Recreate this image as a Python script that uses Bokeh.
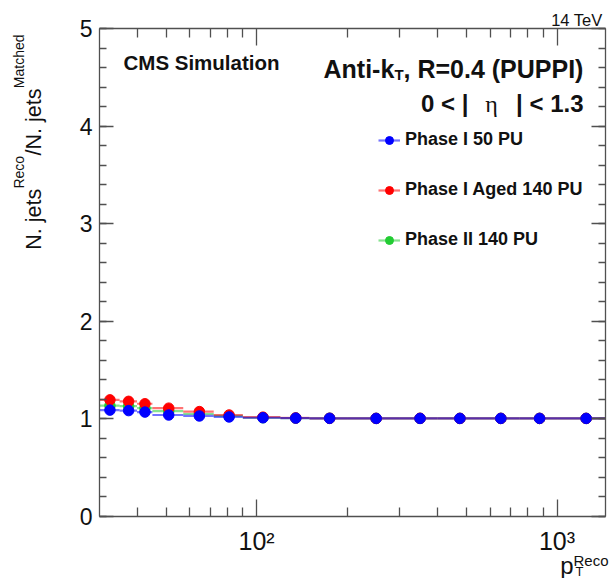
import math
from bokeh.plotting import figure
from bokeh.models import (Range1d, LinearAxis, LogAxis, FixedTicker, SingleIntervalTicker,
                          Label, Legend, LegendItem, ColumnDataSource, Title)
from bokeh.embed import file_html
from bokeh.resources import INLINE

# ---------------- data ----------------
pt_center = [32.5, 37.5, 42.5, 51, 64.5, 81, 105, 135, 175, 250, 350, 475, 650, 875, 1250]
pt_low = [30, 35, 40, 45, 57, 72, 90, 120, 150, 200, 300, 400, 550, 750, 1000]
pt_high = [35, 40, 45, 57, 72, 90, 120, 150, 200, 300, 400, 550, 750, 1000, 1500]

phase1_50pu = [1.09, 1.085, 1.07, 1.04, 1.03, 1.02, 1.012, 1.008, 1.006, 1.005, 1.005, 1.005, 1.005, 1.005, 1.005]
phase1_aged_140pu = [1.195, 1.18, 1.155, 1.11, 1.075, 1.04, 1.018, 1.01, 1.006, 1.005, 1.006, 1.005, 1.005, 1.005, 1.005]
phase2_140pu = [1.135, 1.13, 1.11, 1.08, 1.05, 1.03, 1.012, 1.008, 1.006, 1.005, 1.005, 1.005, 1.005, 1.005, 1.005]

series_names = ["Phase I 50 PU", "Phase I Aged 140 PU", "Phase II 140 PU"]
x_major = [100, 1000]
x_minor = [40, 50, 60, 70, 80, 90, 200, 300, 400, 500, 600, 700, 800, 900]
x_labels = {100: "10\u00b2", 1000: "10\u00b3"}

# ---------------- layout ----------------
W, H = 611, 578
FL, FR, FT, FB = 99, 605, 28, 516
FONT = "Liberation Sans"
SERIF = "Liberation Serif"
AXC = "#505050"
TXT = "#111111"

p = figure(width=W, height=H, x_axis_type="log",
           x_range=Range1d(30, 1450), y_range=Range1d(0, 5),
           output_backend="svg", toolbar_location=None,
           min_border_left=FL, min_border_right=W - FR,
           min_border_top=FT, min_border_bottom=H - FB)
p.xgrid.visible = False
p.ygrid.visible = False
p.outline_line_color = None
p.background_fill_color = "white"
p.border_fill_color = "white"


def style_axis(ax, major_len, minor_len, labels=True):
    ax.major_tick_in = major_len
    ax.major_tick_out = 0
    ax.minor_tick_in = minor_len
    ax.minor_tick_out = 0
    ax.axis_line_color = AXC
    ax.major_tick_line_color = AXC
    ax.minor_tick_line_color = AXC
    ax.axis_line_width = 1.3
    ax.major_tick_line_width = 1.3
    ax.minor_tick_line_width = 1.3
    if not labels:
        ax.major_label_text_font_size = "1px"
        ax.major_label_text_alpha = 0
        ax.major_label_standoff = 0


xticker = FixedTicker(ticks=x_major, minor_ticks=x_minor)
yticker = SingleIntervalTicker(interval=1, num_minor_ticks=5)

xb = p.xaxis[0]
xb.ticker = xticker
xb.major_label_overrides = x_labels
xb.major_label_text_font = FONT
xb.major_label_text_font_size = "25px"
xb.major_label_text_color = TXT
xb.major_label_standoff = 10
style_axis(xb, 17, 9)

yl = p.yaxis[0]
yl.ticker = yticker
yl.major_label_text_font = FONT
yl.major_label_text_font_size = "23px"
yl.major_label_text_color = TXT
yl.major_label_standoff = 7
style_axis(yl, 14, 7)

xt = LogAxis(ticker=xticker)
style_axis(xt, 17, 9, labels=False)
p.add_layout(xt, "above")

yr = LinearAxis(ticker=yticker)
style_axis(yr, 14, 7, labels=False)
p.add_layout(yr, "right")

# ---------------- data marks ----------------
colors = ["#0000ff", "#ff0000", "#22cc33"]
values = [phase1_50pu, phase1_aged_140pu, phase2_140pu]
renderers = {}
for idx in [2, 1, 0]:
    src = ColumnDataSource(dict(x=pt_center, lo=pt_low, hi=pt_high, y=values[idx]))
    seg = p.segment(x0="lo", x1="hi", y0="y", y1="y", source=src,
                    line_color=colors[idx], line_alpha=0.55, line_width=2.2)
    sc = p.scatter(x="x", y="y", source=src, size=10.5, marker="circle",
                   fill_color=colors[idx], line_color=colors[idx])
    renderers[idx] = (seg, sc)

items = [LegendItem(label=series_names[i], renderers=list(renderers[i])) for i in range(3)]
legend = Legend(items=items, location=(279, 266), orientation="vertical",
                background_fill_alpha=0, border_line_color=None,
                label_text_font=FONT, label_text_font_style="bold",
                label_text_font_size="18px", label_text_color=TXT,
                glyph_width=22, glyph_height=20, label_height=20,
                spacing=29, padding=0, margin=0, label_standoff=5)
p.add_layout(legend)


# ---------------- texts inside the frame ----------------
def lab(text, cx, cy, size, bold=False, align="left", angle=0.0, font=FONT):
    p.add_layout(Label(text=text, x=cx - FL, y=FB - cy, x_units="screen", y_units="screen",
                       text_font=font, text_font_size=size,
                       text_font_style="bold" if bold else "normal",
                       text_align=align, text_baseline="alphabetic",
                       text_color=TXT, angle=angle))


lab("CMS Simulation", 123, 62, "20.5px", bold=True)
lab("Anti-k", 323, 68, "25px", bold=True)
lab("T", 394, 74, "15px", bold=True)
lab(", R=0.4 (PUPPI)", 403, 68, "25px", bold=True)
lab("0 < |", 468, 103, "24px", bold=True, align="right")
lab("\u03b7", 491, 103, "24px", align="center", font=SERIF)
lab("| < 1.3", 583, 103, "24px", bold=True, align="right")


# ---------------- texts outside the frame (side-panel titles) ----------------
def side_title(text, place, size, align, offset, standoff, valign="bottom"):
    t = Title(text=text, align=align, offset=offset, standoff=standoff,
              vertical_align=valign, text_font=FONT, text_font_size=size,
              text_font_style="normal", text_color=TXT)
    p.add_layout(t, place)


NB, EN, EM = "\u00a0", "\u2002", "\u2003"

# top right energy label
side_title("14 TeV", "above", "16.5px", "right", 3, 0)

# y-axis title: main text column and superscript column
side_title(NB, "left", "10px", "center", 0, 18)  # spacer between ticks and title
side_title("N. jets" + EN * 2 + NB * 2 + "/N. jets", "left", "21.5px", "right", 60, 0)
side_title("Reco" + EM * 4 + NB * 3 + "Matched", "left", "14px", "right", 6, -14)

# x-axis title: p, superscript Reco, subscript T
side_title("Reco", "below", "15px", "right", -3, -15)
side_title("p", "below", "24px", "right", 32, -23)
side_title("T", "below", "13px", "right", 22, -12)

open("out.html", "w").write(file_html(p, INLINE))
